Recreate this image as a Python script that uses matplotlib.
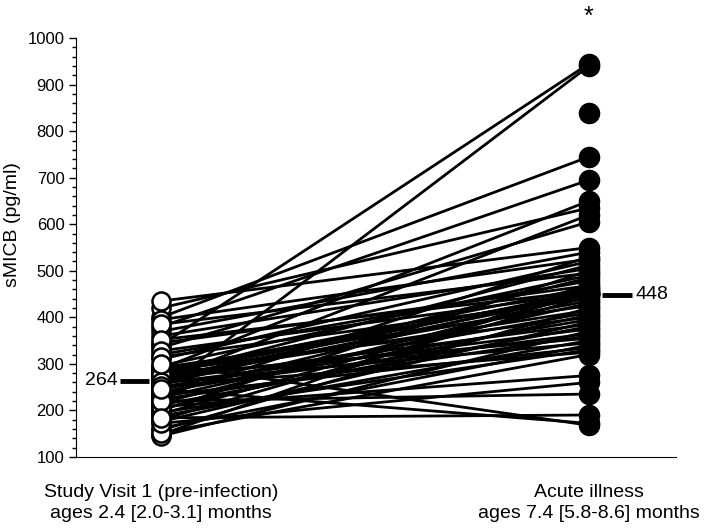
import numpy as np
import matplotlib
matplotlib.use("Agg")
from matplotlib import pyplot as plt
from matplotlib.ticker import MultipleLocator

plt.rcParams['font.family'] = ['Liberation Sans', 'DejaVu Sans']

# paired sMICB values (pg/ml), same child in same position
visit1 = [341, 244, np.nan, 400, 380, 290, 420, 265, 335, 435, 370, 230, 395, 310, 275, 360,
          200, 385, 296, 255, 320, 148, 345, 282, 236, 352, 270, 192, 328, 279, 216, 288,
          262, 180, 315, 268, 228, 292, 158, 274, 250, 204, 285, 240, 176, 266, 212, 258,
          145, 247, 224, 276, 188, 260, 162, 232, 196, 252, 152, 208, 172, 220, 184, 245, 300]
acute = [945, 940, 840, 745, 695, 650, 635, 620, 605, 550, 540, 530, 525, 520, 512, 505,
         500, 495, 490, 485, 478, 472, 468, 464, 460, 457, 455, 453, 452, 451, 450, 449,
         448, 445, 440, 435, 430, 425, 420, 415, 410, 405, 400, 395, 390, 385, 380, 375,
         370, 365, 360, 355, 350, 345, 340, 335, 330, 325, 320, 275, 260, 235, 190, 172, 168]

medians = [264, 448]
group_labels = ["Study Visit 1 (pre-infection)\nages 2.4 [2.0-3.1] months",
                "Acute illness\nages 7.4 [5.8-8.6] months"]

fig = plt.figure(figsize=(7.06, 5.30), dpi=100)
ax = fig.add_axes([0.108, 0.138, 0.849, 0.79])

for a, b in zip(visit1, acute):
    if not np.isnan(a):
        ax.plot([0, 1], [a, b], color='black', lw=2.0, zorder=1)

ax.plot(np.zeros(len(visit1)), visit1, 'o', ms=13, mfc='white', mec='black', mew=1.8,
        ls='none', zorder=3)
ax.plot(np.ones(len(acute)), acute, 'o', ms=14.5, mfc='black', mec='black',
        ls='none', zorder=3)

# median bars
ax.plot([-0.096, -0.028], [medians[0]] * 2, color='black', lw=3.5, zorder=2,
        solid_capstyle='butt', clip_on=False)
ax.text(-0.103, medians[0], str(medians[0]), ha='right', va='center', fontsize=14)
ax.plot([1.030, 1.100], [medians[1]] * 2, color='black', lw=3.5, zorder=2,
        solid_capstyle='butt', clip_on=False)
ax.text(1.11, medians[1], str(medians[1]), ha='left', va='center', fontsize=14)

ax.text(1, 1045, '*', ha='center', va='center', fontsize=18, clip_on=False)

ax.set_xlim(-0.199, 1.203)
ax.set_ylim(100, 1000)
ax.yaxis.set_major_locator(MultipleLocator(100))
ax.yaxis.set_minor_locator(MultipleLocator(20))
ax.tick_params(axis='y', which='major', length=5, width=1, labelsize=12, direction='out')
ax.tick_params(axis='y', which='minor', length=3, width=1, direction='out')
ax.set_xticks([])
ax.spines['top'].set_visible(False)
ax.spines['right'].set_visible(False)
ax.set_ylabel('sMICB (pg/ml)', fontsize=14)
ax.yaxis.set_label_coords(-0.093, 0.556)

fig.text(161 / 706, 1 - 503 / 530, group_labels[0], ha='center', va='center',
         fontsize=14, linespacing=1.3)
fig.text(589 / 706, 1 - 503 / 530, group_labels[1], ha='center', va='center',
         fontsize=14, linespacing=1.3)

fig.savefig('out.png', dpi=100)
